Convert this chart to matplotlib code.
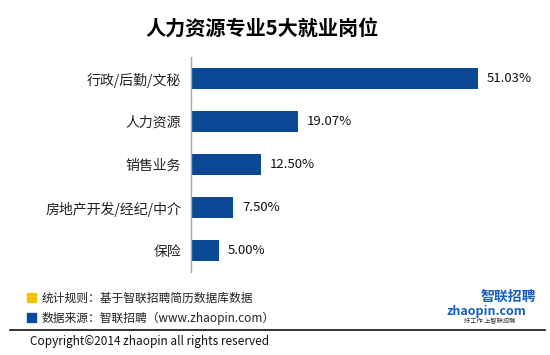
import matplotlib.pyplot as plt
from matplotlib.patches import Rectangle
import numpy as np

plt.rcParams['font.family'] = ['Noto Sans CJK SC', 'DejaVu Sans']

categories = ["行政/后勤/文秘", "人力资源", "销售业务", "房地产开发/经纪/中介", "保险"]
values = [51.03, 19.07, 12.50, 7.50, 5.00]
title = "人力资源专业5大就业岗位"
legend_items = [("统计规则：基于智联招聘简历数据库数据", "#F5C400"),
                ("数据来源：智联招聘（www.zhaopin.com）", "#0A4A9A")]
copyright_text = "Copyright©2014 zhaopin all rights reserved"

BAR_COLOR = "#0A4896"

fig = plt.figure(figsize=(5.5, 3.55), dpi=100)
ax = fig.add_axes([191 / 550, 1 - 272 / 355, 349 / 550, 215 / 355])

y = np.arange(len(categories))
bars = ax.barh(y, values, height=0.51, color=BAR_COLOR)
for bar, v in zip(bars, values):
    ax.text(bar.get_width() + 1.6, bar.get_y() + bar.get_height() / 2, f"{v:.2f}%",
            va="center", ha="left", fontsize=9.5, color="#111111")

ax.set_xlim(0, 62.1)
ax.set_ylim(len(categories) - 0.5, -0.5)
ax.set_yticks(y)
ax.set_yticklabels(categories, fontsize=10, color="#222222")
ax.set_xticks([])
ax.tick_params(axis="y", length=0, pad=7)
for side in ["top", "right", "bottom"]:
    ax.spines[side].set_visible(False)
ax.spines["left"].set_color("#A8A8A8")
ax.spines["left"].set_linewidth(1)

fig.text(262 / 550, 1 - 28 / 355, title, ha="center", va="center", fontsize=14.5, weight="bold")

# legend notes at bottom
for i, (label, color) in enumerate(legend_items):
    ypix = 298 + i * 20
    fig.patches.append(Rectangle((27 / 550, 1 - (ypix + 4) / 355), 9 / 550, 9 / 355,
                                 transform=fig.transFigure, color=color))
    fig.text(42 / 550, 1 - ypix / 355, label, ha="left", va="center", fontsize=8.5, color="#222222")

# logo
fig.text(508 / 550, 1 - 297 / 355, "智联招聘", ha="center", va="center", fontsize=10,
         weight="bold", color="#1A5FC0", style="italic")
fig.text(486 / 550, 1 - 311 / 355, "zhaopin.com", ha="center", va="center", fontsize=9,
         weight="bold", color="#1A5FC0", style="italic")
fig.text(490 / 550, 1 - 321 / 355, "好工作 上智联招聘", ha="center", va="center", fontsize=4.5,
         color="#333333")

# separator line
fig.add_artist(plt.Line2D([10 / 550, 545 / 550], [1 - 330 / 355, 1 - 330 / 355],
                          transform=fig.transFigure, color="#111111", linewidth=1.2))
fig.text(30 / 550, 1 - 341 / 355, copyright_text, ha="left", va="center", fontsize=8.5, color="#111111")

fig.savefig("out.png", dpi=100)
